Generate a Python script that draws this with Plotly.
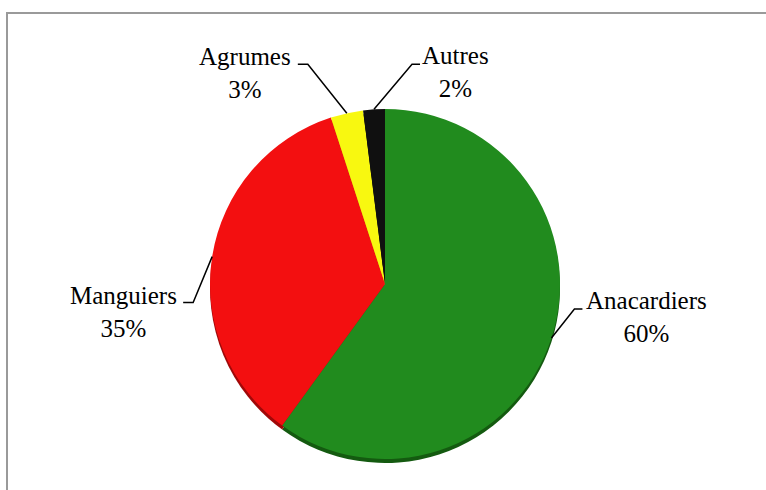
import math
import plotly.graph_objects as go

# ---- data ----
categories = ["Anacardiers", "Manguiers", "Agrumes", "Autres"]
values = [60, 35, 3, 2]
colors = ["#218B1E", "#F30F10", "#F8F810", "#101010"]
rim_colors = ["#145A10", "#A00808", "#B0B000", "#000000"]

# ---- layout constants (pixels) ----
W, H = 766, 490
CX, CY, R = 385, 284, 175
RIM = 4
FONT = dict(family="Liberation Serif, Times New Roman, serif", size=25, color="#000000")

# label offsets: (elbow dx, elbow dy, horizontal segment length/direction, text dx, text dy)
label_style = {
    "Anacardiers": (23, -29, 8, 72, 8),
    "Manguiers": (-19, 46, -10, -70, 9),
    "Agrumes": (-39, -49, -10, -63, 9),
    "Autres": (38, -45, 8, 43, 8),
}


def px(x):
    return x / W


def py(y):
    return 1 - y / H


fig = go.Figure()

# bottom rim (3D look)
fig.add_trace(go.Pie(
    labels=categories, values=values, sort=False, direction="clockwise", rotation=0,
    marker=dict(colors=rim_colors, line=dict(width=0)), textinfo="none", hoverinfo="skip",
    showlegend=False,
    domain=dict(x=[px(CX - R), px(CX + R)], y=[py(CY + R + RIM), py(CY - R + RIM)]),
))
fig.add_trace(go.Pie(
    labels=categories, values=values, sort=False, direction="clockwise", rotation=0,
    marker=dict(colors=colors, line=dict(width=0)), textinfo="none",
    showlegend=False,
    domain=dict(x=[px(CX - R), px(CX + R)], y=[py(CY + R), py(CY - R)]),
))

shapes = [dict(type="rect", xref="paper", yref="paper",
               x0=px(7), y0=py(13), x1=px(W + 5), y1=py(H + 5),
               line=dict(color="#9A9A9A", width=2), fillcolor="rgba(0,0,0,0)", layer="below")]
annotations = []

total = sum(values)
start = 0.0
for name, v in zip(categories, values):
    frac = v / total
    mid = (start + frac / 2) * 2 * math.pi
    start += frac
    ax = CX + R * math.sin(mid)
    ay = CY - R * math.cos(mid)
    edx, edy, hl, tdx, tdy = label_style[name]
    ex, ey = ax + edx, ay + edy
    hx = ex + hl
    shapes.append(dict(
        type="path", xref="paper", yref="paper",
        path=f"M {px(ax)} {py(ay)} L {px(ex)} {py(ey)} L {px(hx)} {py(ey)}",
        line=dict(color="#000000", width=1.5),
    ))
    annotations.append(dict(
        xref="paper", yref="paper", x=px(ex + tdx), y=py(ey + tdy),
        text=f"{name}<br>{round(frac * 100)}%", showarrow=False,
        font=FONT, align="center", xanchor="center", yanchor="middle",
    ))

fig.update_layout(
    width=W, height=H,
    margin=dict(l=0, r=0, t=0, b=0),
    paper_bgcolor="white", plot_bgcolor="white",
    shapes=shapes, annotations=annotations,
    showlegend=False,
)

fig.write_html(
    "out.html",
    config={"displayModeBar": False},
    post_script="document.body.style.margin='0';document.body.style.overflow='hidden';",
)
